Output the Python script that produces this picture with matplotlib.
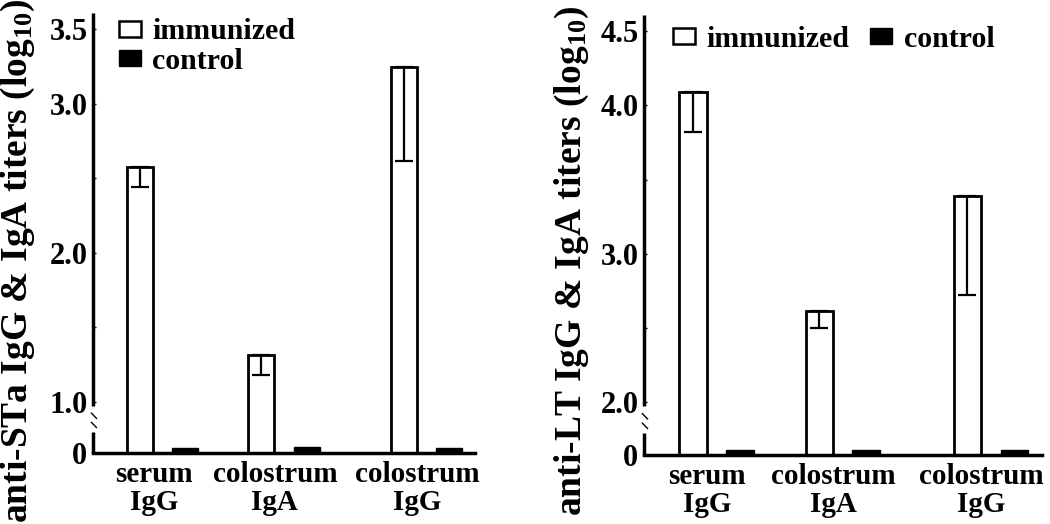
import numpy as np
import matplotlib
matplotlib.use("Agg")
import matplotlib.pyplot as plt
from matplotlib.patches import Patch

# ---------------- data ----------------
categories = ["serum\nIgG", "colostrum\nIgA", "colostrum\nIgG"]
series_names = ["immunized", "control"]

sta_immunized = [2.58, 1.315, 3.25]
sta_immunized_err_low = [0.14, 0.135, 0.63]
sta_control = [0.10, 0.12, 0.10]

lt_immunized = [4.09, 2.61, 3.39]
lt_immunized_err_low = [0.27, 0.11, 0.67]
lt_control = [0.20, 0.20, 0.20]

sta_ticks = [0, 1.0, 2.0, 3.0, 3.5]
sta_ticklabels = ["0", "1.0", "2.0", "3.0", "3.5"]
sta_minor = [1.5, 2.5]
lt_ticks = [0, 2.0, 3.0, 4.0, 4.5]
lt_ticklabels = ["0", "2.0", "3.0", "4.0", "4.5"]
lt_minor = [2.5, 3.5]

# ---------------- style ----------------
plt.rcParams["font.family"] = ["Liberation Serif", "DejaVu Serif"]
plt.rcParams["font.weight"] = "bold"
plt.rcParams["mathtext.fontset"] = "custom"
plt.rcParams["mathtext.rm"] = "Liberation Serif:bold"
plt.rcParams["mathtext.bf"] = "Liberation Serif:bold"
plt.rcParams["mathtext.it"] = "Liberation Serif:bold"

fig = plt.figure(figsize=(10.5, 5.24), dpi=100)

group_centers = np.array([1.83, 5.0, 8.72])
offset = 0.59
label_pos = group_centers - 0.24


def make_scale(b, d):
    def fwd(v):
        v = np.asarray(v, dtype=float)
        return np.where(v < b, v * d / b, d + (v - b))

    def inv(u):
        u = np.asarray(u, dtype=float)
        return np.where(u < d, u * b / d, b + (u - d))
    return fwd, inv


def panel(rect, imm, err_low, ctrl, ticks, ticklabels, minor, brk, dseg, ytop,
          ylabel, label_x, legend_kw, bar_w):
    ax = fig.add_axes(rect)
    fwd, inv = make_scale(brk, dseg)
    ax.set_yscale("function", functions=(fwd, inv))
    ax.set_ylim(0, ytop)
    ax.set_xlim(0, 10)

    x_imm = group_centers - offset
    x_ctl = group_centers + offset
    yerr = np.array([err_low, np.zeros(len(err_low))])
    ax.bar(x_imm, imm, width=bar_w, color="white", edgecolor="black",
           linewidth=2.0, label=series_names[0], zorder=2)
    ax.errorbar(x_imm, imm, yerr=yerr, fmt="none", ecolor="black",
                elinewidth=1.6, capsize=6.5, capthick=1.6, zorder=3)
    ax.bar(x_ctl, ctrl, width=bar_w, color="black", edgecolor="black",
           linewidth=1.0, label=series_names[1], zorder=2)

    for s in ["top", "right", "left"]:
        ax.spines[s].set_visible(False)
    ax.spines["bottom"].set_linewidth(2.5)

    # broken left spine
    tr = ax.get_yaxis_transform()
    ax.plot([0, 0], [0.92 * brk, ytop], transform=tr, color="black",
            linewidth=2.5, clip_on=False, solid_capstyle="butt", zorder=4)
    ax.plot([0, 0], [0, 0.42 * brk], transform=tr, color="black",
            linewidth=2.5, clip_on=False, solid_capstyle="butt", zorder=4)
    # break marks
    for y0, y1 in [(0.78 * brk, 0.68 * brk), (0.60 * brk, 0.50 * brk)]:
        ax.plot([-0.004, 0.009], [y0, y1], transform=tr, color="black",
                linewidth=1.0, clip_on=False)

    ax.set_yticks(ticks)
    ax.set_yticklabels(ticklabels, fontsize=22, fontweight="bold")
    ax.set_yticks(minor, minor=True)
    ax.tick_params(axis="y", which="both", direction="in", length=2,
                   width=1, pad=4)
    ax.tick_params(axis="x", length=0, pad=6)
    ax.set_xticks(label_pos)
    ax.set_xticklabels(categories, fontsize=21, fontweight="bold",
                       linespacing=1.05)

    fig.text(label_x, 0.502, ylabel, rotation=90, ha="center", va="center",
             fontsize=27, fontweight="bold")

    handles = [Patch(facecolor="white", edgecolor="black", linewidth=1.8),
               Patch(facecolor="black", edgecolor="black")]
    ax.legend(handles, series_names, frameon=False, prop={"size": 21.5, "weight": "bold"},
              handlelength=0.72, handleheight=0.45, handletextpad=0.4,
              borderaxespad=0, borderpad=0, **legend_kw)
    return ax


panel([0.0886, 0.1355, 0.3638, 0.8397], sta_immunized, sta_immunized_err_low,
      sta_control, sta_ticks, sta_ticklabels, sta_minor, 1.0, 0.342, 3.61,
      "anti-STa IgG & IgA titers (log$_{10}$)", 0.017,
      dict(loc="upper left", bbox_to_anchor=(0.068, 0.988), ncol=1,
           labelspacing=0.08), 0.68)

panel([0.6133, 0.1317, 0.379, 0.8397], lt_immunized, lt_immunized_err_low,
      lt_control, lt_ticks, lt_ticklabels, lt_minor, 2.0, 0.358, 4.61,
      "anti-LT IgG & IgA titers (log$_{10}$)", 0.545,
      dict(loc="upper left", bbox_to_anchor=(0.073, 0.976), ncol=2,
           columnspacing=0.7), 0.70)

fig.savefig("out.png", dpi=100)
